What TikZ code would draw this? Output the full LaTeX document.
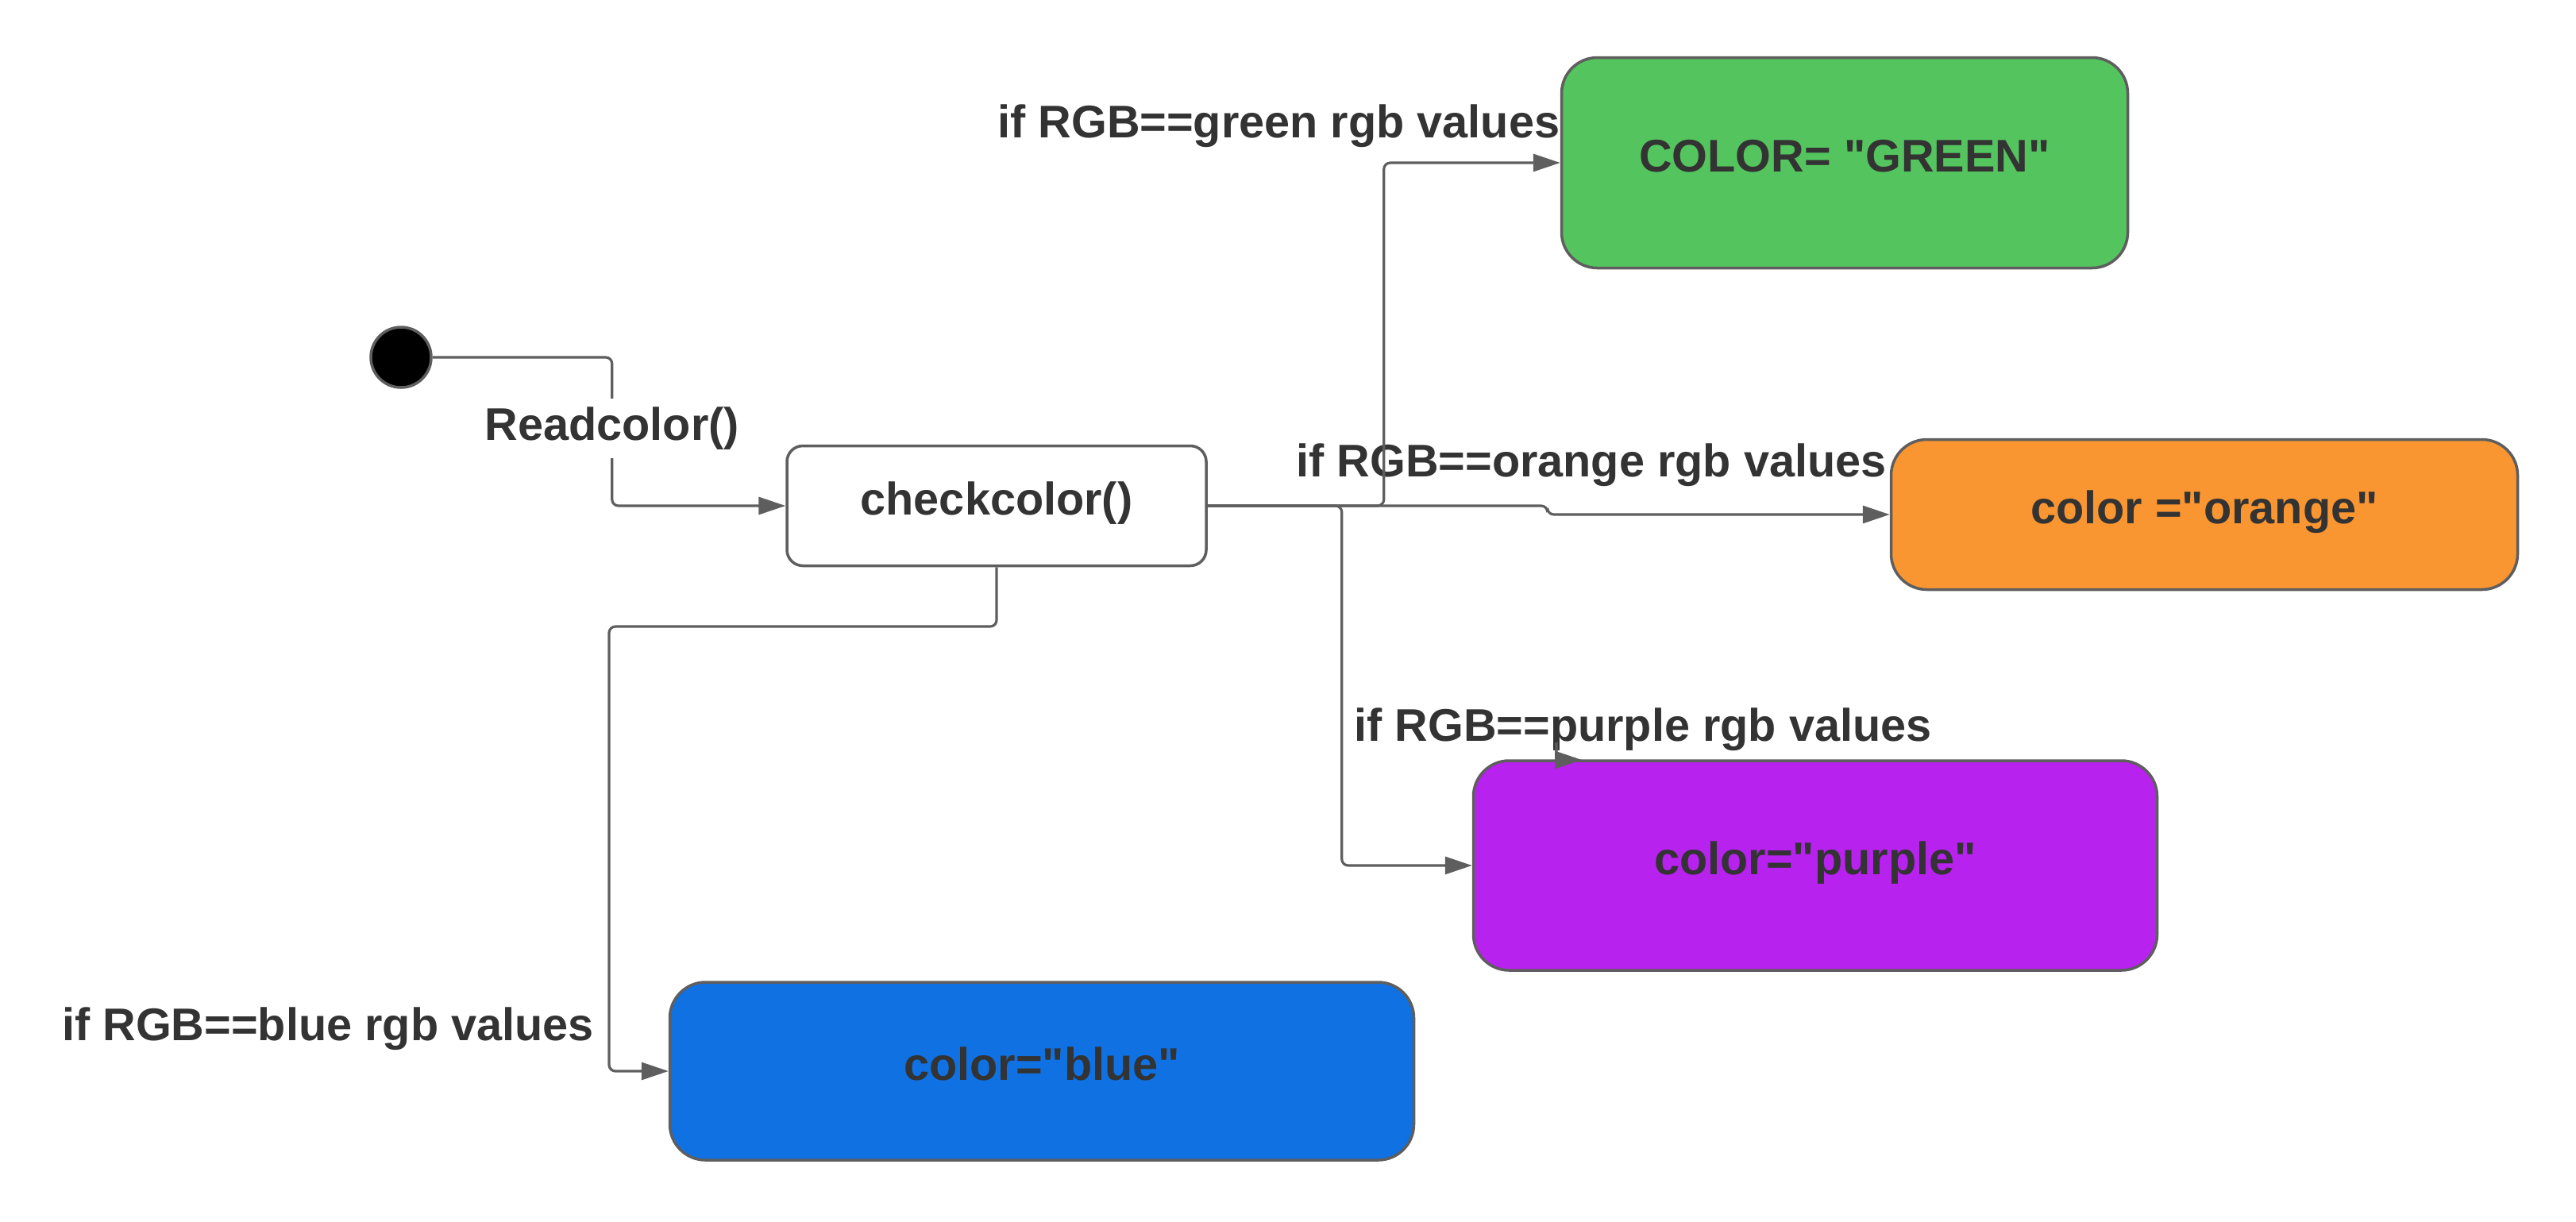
\documentclass[tikz,border=0pt]{standalone}
\usepackage{fontspec}
\setmainfont{Liberation Sans}
\usetikzlibrary{arrows.meta}
\definecolor{linegray}{HTML}{5E5E5E}
\definecolor{textgray}{HTML}{333333}
\definecolor{greenfill}{HTML}{54C45E}
\definecolor{orangefill}{HTML}{F99631}
\definecolor{purplefill}{HTML}{B722EE}
\definecolor{bluefill}{HTML}{1071E3}
\newcommand{\labelfont}{\fontsize{16.4}{20}\selectfont\bfseries}
\newcommand{\dq}{\textquotedbl}
\tikzset{>={Triangle[length=0.34cm,width=0.22cm]}}
\tikzset{state/.style = {shape=rectangle,draw=linegray,line width=1pt,rounded corners=0.45cm,inner sep=0pt,text height=0.72em,text depth=0.08em,text=textgray,font=\labelfont}}
\tikzset{cond/.style = {inner sep=0pt,text=textgray,font=\labelfont}}
\tikzset{flow/.style = {draw=linegray,line width=0.9pt,rounded corners=0.08cm,->}}

\begin{document}
\begin{tikzpicture}
                    \useasboundingbox (0,0) rectangle (32.44,-15.38);

                    \node[circle,draw=linegray,fill=black,line width=1pt,minimum size=0.76cm,inner sep=0pt] (start) at (5.05,-4.50) {};
                    \node[state,rounded corners=0.2cm,minimum width=5.28cm,minimum height=1.51cm] (check) at (12.55,-6.37) {checkcolor()};

                    \node[state,fill=greenfill,minimum width=7.13cm,minimum height=2.65cm] (green) at (23.23,-2.05) {COLOR= \dq GREEN\dq};
                    \node[state,fill=orangefill,minimum width=7.89cm,minimum height=1.89cm] (orange) at (27.76,-6.48) {color =\dq orange\dq};
                    \node[state,fill=purplefill,minimum width=8.61cm,minimum height=2.64cm] (purple) at (22.86,-10.90) {color=\dq purple\dq};
                    \node[state,fill=bluefill,minimum width=9.37cm,minimum height=2.24cm] (blue) at (13.12,-13.49) {color=\dq blue\dq};

                    \node[cond,anchor=base east] (ifgreen) at (19.65,-1.73) {if RGB==green rgb values};
                    \node[cond,anchor=base] (iforange) at (20.04,-6.00) {if RGB==orange rgb values};
                    \node[cond,anchor=base] (ifpurple) at (20.69,-9.33) {if RGB==purple rgb values};
                    \node[cond,anchor=base] (ifblue) at (4.13,-13.10) {if RGB==blue rgb values};
                    \coordinate (stray) at (19.60,-9.35);

                    \draw[flow] (start.east) -- ++(2.26,0) |- node[pos=0.25,cond,fill=white,inner ysep=3pt,yshift=0.04cm] (read) {Readcolor()} (check.west);
                    \draw[flow] (check.east) -- ++(2.22,0) |- (green.west);
                    \draw[flow] (check.east) -- ++(4.28,0) |- (orange.west);
                    \draw[flow] (check.east) -- ++(1.69,0) |- (purple.west);
                    \draw[flow] (check.south) |- (7.67,-7.89) |- (blue.west);
                    \draw[flow] (stray) |- ++(0.32,-0.22);
                \end{tikzpicture}
\end{document}
